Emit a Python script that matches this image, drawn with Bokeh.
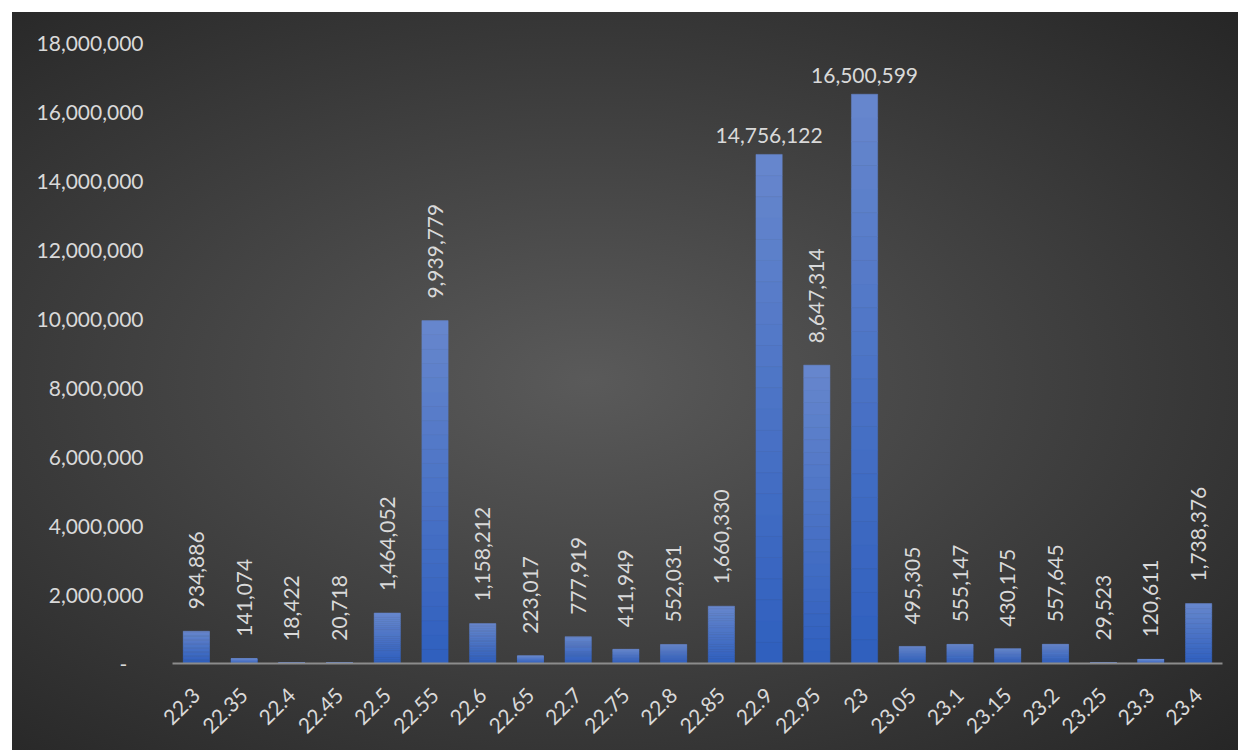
import math
from bokeh.plotting import figure
from bokeh.models import FactorRange, Range1d, FixedTicker, NumeralTickFormatter, ColumnDataSource
from bokeh.core.properties import value
from bokeh.embed import file_html
from bokeh.resources import INLINE

# ---- data ----
categories = ["22.3", "22.35", "22.4", "22.45", "22.5", "22.55", "22.6", "22.65", "22.7", "22.75",
              "22.8", "22.85", "22.9", "22.95", "23", "23.05", "23.1", "23.15", "23.2", "23.25",
              "23.3", "23.4"]
values = [934886, 141074, 18422, 20718, 1464052, 9939779, 1158212, 223017, 777919, 411949,
          552031, 1660330, 14756122, 8647314, 16500599, 495305, 555147, 430175, 557645, 29523,
          120611, 1738376]
horizontal_labels = ["22.9", "23"]
y_ticks = [0, 2000000, 4000000, 6000000, 8000000, 10000000, 12000000, 14000000, 16000000, 18000000]

FONT = "Lato"
TXT = "#d9d9d9"

W, H = 1226, 738
p = figure(x_range=FactorRange(*categories, range_padding=0), y_range=Range1d(0, 18000000),
           width=W, height=H, output_backend="svg", toolbar_location=None,
           min_border_left=160, min_border_right=16, min_border_top=30, min_border_bottom=87)
p.margin = (12, 0, 0, 12)
p.border_fill_color = None
p.background_fill_color = None
p.outline_line_color = None
p.styles = {"background": "radial-gradient(ellipse farthest-corner at 47% 50%, #5a5a5a 0%, #262626 100%)"}
p.xgrid.grid_line_color = None
p.ygrid.grid_line_color = None

# bars with vertical gradient (strips)
def lerp(c1, c2, t):
    a = [int(c1[i:i + 2], 16) for i in (1, 3, 5)]
    b = [int(c2[i:i + 2], 16) for i in (1, 3, 5)]
    return "#%02x%02x%02x" % tuple(round(a[k] + (b[k] - a[k]) * t) for k in range(3))

bottom_col, top_col = "#2f5fbe", "#6787cd"
N = 24
xs, bots, tops, cols = [], [], [], []
for c, v in zip(categories, values):
    for i in range(N):
        xs.append(c)
        bots.append(v * i / N)
        tops.append(v * (i + 1) / N)
        cols.append(lerp(bottom_col, top_col, (i + 0.5) / N))
p.vbar(x=xs, bottom=bots, top=tops, width=0.55, fill_color=cols, line_color=cols, line_width=0.5)

# data labels
labels = ["{:,}".format(v) for v in values]
rot = ColumnDataSource(dict(x=[c for c in categories if c not in horizontal_labels],
                            y=[v for c, v in zip(categories, values) if c not in horizontal_labels],
                            t=[l for c, l in zip(categories, labels) if c not in horizontal_labels]))
hor = ColumnDataSource(dict(x=[c for c in categories if c in horizontal_labels],
                            y=[v for c, v in zip(categories, values) if c in horizontal_labels],
                            t=[l for c, l in zip(categories, labels) if c in horizontal_labels]))
p.text(x="x", y="y", text="t", source=rot, angle=math.pi / 2, text_align="left", text_baseline="middle",
       y_offset=-22, text_font=value(FONT), text_font_size="21px", text_color=TXT)
p.text(x="x", y="y", text="t", source=hor, text_align="center", text_baseline="alphabetic",
       y_offset=-19, text_font=value(FONT), text_font_size="21px", text_color=TXT)

# axes
p.yaxis.ticker = FixedTicker(ticks=y_ticks)
p.yaxis.formatter = NumeralTickFormatter(format="0,0")
p.yaxis.major_label_overrides = {0: "-\u00a0\u00a0\u00a0"}
p.yaxis.axis_line_color = None
p.yaxis.major_tick_line_color = None
p.yaxis.minor_tick_line_color = None
p.yaxis.major_tick_out = 0
p.yaxis.major_label_standoff = 29
p.yaxis.major_label_text_font = FONT
p.yaxis.major_label_text_font_size = "21px"
p.yaxis.major_label_text_color = TXT

p.xaxis.axis_line_color = "#8c8c8c"
p.xaxis.axis_line_width = 2
p.xaxis.major_tick_line_color = None
p.xaxis.major_tick_out = 0
p.xaxis.major_label_standoff = 28
p.xaxis.major_label_orientation = math.pi / 4
p.xaxis.major_label_text_font = FONT
p.xaxis.major_label_text_font_size = "21px"
p.xaxis.major_label_text_color = TXT

open("out.html", "w").write(file_html(p, INLINE))
